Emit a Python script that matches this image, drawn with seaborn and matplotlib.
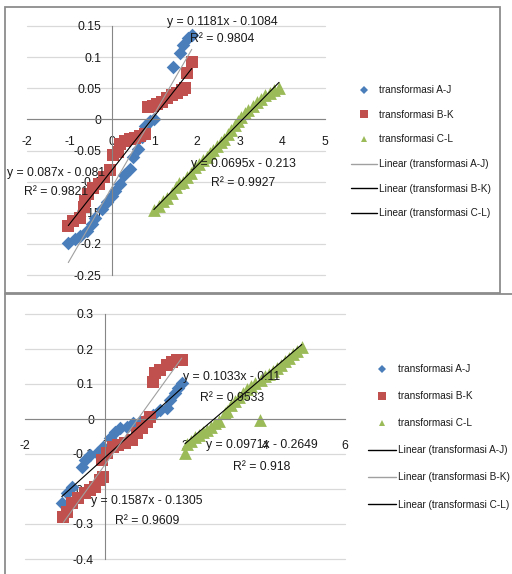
import matplotlib
matplotlib.use("Agg")
import matplotlib.pyplot as plt
from matplotlib.lines import Line2D
from matplotlib.patches import Rectangle
import numpy as np
import pandas as pd
import seaborn as sns

sns.set_style("white")
plt.rcParams["font.family"] = ["Liberation Sans", "DejaVu Sans"]

SERIES = ["transformasi A-J", "transformasi B-K", "transformasi C-L"]
COLORS = ["#4a7ebb", "#c0504d", "#9bbb59"]
MARKERS = ["D", "s", "^"]
MSIZE = [48, 78, 85]

# ---- upper chart data ----
aj_top_x = [-1.03, -0.87, -0.75, -0.60, -0.48, -0.40, -0.24, -0.12, 0.00, 0.07, 0.19, 0.27,
            0.42, 0.50, 0.61, 0.70, 0.78, 0.89, 0.99, 1.44, 1.60, 1.67, 1.79, 1.87]
aj_top_y = [-0.198, -0.192, -0.187, -0.179, -0.168, -0.158, -0.144, -0.133, -0.123, -0.115,
            -0.104, -0.090, -0.079, -0.061, -0.047, -0.029, -0.010, -0.002, 0.000, 0.084,
            0.106, 0.119, 0.130, 0.135]
bk_top_x = [-1.03, -0.91, -0.75, -0.67, -0.63, -0.56, -0.44, -0.32, -0.20, -0.05, 0.03, 0.14,
            0.19, 0.30, 0.42, 0.54, 0.66, 0.78, 0.85, 0.96, 1.05, 1.17, 1.30, 1.41, 1.53,
            1.64, 1.71, 1.76, 1.87]
bk_top_y = [-0.171, -0.163, -0.158, -0.141, -0.131, -0.120, -0.111, -0.104, -0.093, -0.082,
            -0.058, -0.053, -0.039, -0.034, -0.032, -0.030, -0.026, -0.023, 0.020, 0.022,
            0.025, 0.028, 0.034, 0.039, 0.042, 0.047, 0.050, 0.074, 0.092]
cl_top_x = [0.98, 1.10, 1.20, 1.30, 1.40, 1.50, 1.58, 1.66, 1.75, 1.85, 1.95, 2.05, 2.13, 2.22,
            2.30, 2.38, 2.47, 2.55, 2.63, 2.72, 2.80, 2.88, 2.95, 3.03, 3.12, 3.20, 3.30,
            3.40, 3.50, 3.60, 3.70, 3.80, 3.92]
cl_top_y = [-0.145, -0.139, -0.131, -0.126, -0.118, -0.108, -0.103, -0.100, -0.093, -0.086,
            -0.077, -0.072, -0.066, -0.061, -0.054, -0.049, -0.043, -0.037, -0.031, -0.024,
            -0.017, -0.009, -0.002, 0.004, 0.010, 0.015, 0.022, 0.028, 0.033, 0.039, 0.043,
            0.047, 0.050]
slope_top = [0.1181, 0.087, 0.0695]
icept_top = [-0.1084, -0.081, -0.213]
r2_top = [0.9804, 0.9821, 0.9927]

# ---- lower chart data ----
aj_bot_x = [-1.08, -0.96, -0.83, -0.58, -0.50, -0.38, -0.21, -0.04, 0.13, 0.25, 0.38, 0.54,
            0.71, 0.88, 1.04, 1.21, 1.38, 1.54, 1.63, 1.75, 1.83, 1.92]
aj_bot_y = [-0.241, -0.212, -0.193, -0.136, -0.117, -0.103, -0.098, -0.079, -0.055, -0.036,
            -0.026, -0.022, -0.012, -0.008, 0.003, 0.011, 0.026, 0.031, 0.054, 0.074,
            0.088, 0.102]
bk_bot_x = [-1.04, -0.96, -0.83, -0.67, -0.50, -0.38, -0.25, -0.13, -0.04, -0.08, 0.04, 0.21,
            0.33, 0.50, 0.67, 0.79, 0.92, 1.04, 1.13, 1.21, 1.25, 1.38, 1.54, 1.67, 1.79, 1.92]
bk_bot_y = [-0.279, -0.265, -0.240, -0.227, -0.212, -0.203, -0.193, -0.174, -0.165, -0.117,
            -0.098, -0.079, -0.074, -0.069, -0.060, -0.041, -0.027, -0.008, 0.007, 0.107,
            0.131, 0.140, 0.154, 0.164, 0.169, 0.169]
cl_bot_x = [2.00, 2.05, 2.15, 2.25, 2.35, 2.45, 2.55, 2.65, 2.75, 2.85, 3.00, 3.05, 3.15, 3.25,
            3.35, 3.45, 3.55, 3.65, 3.75, 3.87, 3.90, 4.00, 4.10, 4.20, 4.30, 4.40, 4.50,
            4.60, 4.70, 4.80, 4.92]
cl_bot_y = [-0.098, -0.072, -0.062, -0.052, -0.045, -0.036, -0.030, -0.022, -0.012, -0.006,
            0.017, 0.022, 0.040, 0.052, 0.063, 0.075, 0.085, 0.094, 0.103, -0.003, 0.112,
            0.122, 0.130, 0.138, 0.146, 0.155, 0.165, 0.175, 0.185, 0.195, 0.205]
slope_bot = [0.1033, 0.1587, 0.0971]
icept_bot = [-0.11, -0.1305, -0.2649]
r2_bot = [0.9533, 0.9609, 0.918]

# tick positions / labels
xt_top = [-2, -1, 0, 1, 2, 3, 4, 5]
xl_top = ["-2", "-1", "0", "1", "2", "3", "4", "5"]
yt_top = [0.15, 0.1, 0.05, 0, -0.05, -0.1, -0.15, -0.2, -0.25]
yl_top = ["0.15", "0.1", "0.05", "0", "-0.05", "-0.1", "-0.15", "-0.2", "-0.25"]
xt_bot = [-2, 0, 2, 4, 6]
xl_bot = ["-2", "0", "2", "4", "6"]
yt_bot = [0.3, 0.2, 0.1, 0, -0.1, -0.2, -0.3, -0.4]
yl_bot = ["0.3", "0.2", "0.1", "0", "-0.1", "-0.2", "-0.3", "-0.4"]

W, H = 512, 574
fig = plt.figure(figsize=(W / 100, H / 100), dpi=100)
fig.patch.set_facecolor("white")


def fx(px):
    return px / W


def fy(py):
    return 1 - py / H


def panel(rect, xs, ys, slopes, icepts, xlim, ylim, xt, xl, yt, yl, fit_colors, xpad):
    ax = fig.add_axes(rect)
    ax.set_facecolor("none")
    frames = []
    for name, x, y in zip(SERIES, xs, ys):
        frames.append(pd.DataFrame({"x": x, "y": y, "series": name}))
    df = pd.concat(frames, ignore_index=True)
    for i, name in enumerate(SERIES):
        sub = df[df["series"] == name]
        sns.scatterplot(data=sub, x="x", y="y", color=COLORS[i], marker=MARKERS[i],
                        s=MSIZE[i], linewidth=0, ax=ax, legend=False, zorder=2)
    for i, name in enumerate(SERIES):
        sub = df[df["series"] == name]
        lo, hi = sub["x"].min(), sub["x"].max()
        fit = pd.DataFrame({"x": [lo, hi],
                            "y": [slopes[i] * lo + icepts[i], slopes[i] * hi + icepts[i]]})
        sns.lineplot(data=fit, x="x", y="y", color=fit_colors[i], lw=0.8, ax=ax, zorder=3)
    ax.set_xlim(*xlim)
    ax.set_ylim(*ylim)
    ax.set_xticks(xt)
    ax.set_xticklabels(xl)
    ax.set_yticks(yt)
    ax.set_yticklabels(yl)
    ax.set_xlabel("")
    ax.set_ylabel("")
    for s in ["top", "right"]:
        ax.spines[s].set_visible(False)
    ax.spines["left"].set_position(("data", 0))
    ax.spines["bottom"].set_position(("data", 0))
    for s in ["left", "bottom"]:
        ax.spines[s].set_color("#868686")
        ax.spines[s].set_linewidth(0.8)
    ax.yaxis.grid(True, color="#d9d9d9", lw=0.9)
    ax.xaxis.grid(False)
    ax.set_axisbelow(True)
    for gl in ax.yaxis.get_gridlines():
        gl.set_clip_on(False)
    ax.tick_params(axis="x", direction="out", length=3, width=0.8, color="#868686",
                   pad=xpad, labelsize=8.8, labelcolor="#1a1a1a")
    ax.tick_params(axis="y", direction="out", length=3, width=0.8, color="#868686",
                   pad=5, labelsize=8.8, labelcolor="#1a1a1a")
    return ax


GRAY_FIT = "#a0a0a0"
ax1 = panel([fx(27), fy(275), (325 - 27) / W, (275 - 26) / H],
            [aj_top_x, bk_top_x, cl_top_x], [aj_top_y, bk_top_y, cl_top_y],
            slope_top, icept_top, (-2, 5), (-0.25, 0.15), xt_top, xl_top, yt_top, yl_top,
            [GRAY_FIT, "black", "black"], 9)
ax2 = panel([fx(25), fy(559), (345 - 25) / W, (559 - 314) / H],
            [aj_bot_x, bk_bot_x, cl_bot_x], [aj_bot_y, bk_bot_y, cl_bot_y],
            slope_bot, icept_bot, (-2, 6), (-0.4, 0.3), xt_bot, xl_bot, yt_bot, yl_bot,
            ["black", GRAY_FIT, "black"], 12)


def eq_text(m, b):
    sign = "-" if b < 0 else "+"
    return f"y = {m:g}x {sign} {abs(b):g}"


# trendline equations (pixel anchors of each label pair)
top_pos = [(222, 22, 39), (56, 173, 192), (243, 164, 183)]
bot_pos = [(232, 377, 398), (147, 501, 521), (262, 445, 467)]
for pos, slopes, icepts, r2s in [(top_pos, slope_top, icept_top, r2_top),
                                 (bot_pos, slope_bot, icept_bot, r2_bot)]:
    for (cx, y1, y2), m, b, r in zip(pos, slopes, icepts, r2s):
        fig.text(fx(cx), fy(y1), eq_text(m, b), ha="center", va="center",
                 fontsize=8.8, color="#1a1a1a")
        fig.text(fx(cx), fy(y2), f"R² = {r:g}", ha="center", va="center",
                 fontsize=8.8, color="#1a1a1a")


def legend_handles(fit_colors):
    hs = [Line2D([], [], ls="none", marker=MARKERS[i], color=COLORS[i],
                 markersize=[4, 5.5, 5][i], markeredgewidth=0) for i in range(3)]
    hs += [Line2D([], [], color=fit_colors[i], lw=1.0) for i in range(3)]
    labels = SERIES + [f"Linear ({n})" for n in SERIES]
    return hs, labels


for ax, cols, (lx, ly), spacing, hlen in [
        (ax1, [GRAY_FIT, "black", "black"], (346, 80), 1.47, 2.6),
        (ax2, ["black", GRAY_FIT, "black"], (363, 359), 1.71, 2.8)]:
    hs, labels = legend_handles(cols)
    leg = ax.legend(hs, labels, loc="upper left", bbox_to_anchor=(fx(lx), fy(ly)),
                    bbox_transform=fig.transFigure, frameon=False, borderpad=0,
                    handlelength=hlen, handletextpad=0.2, labelspacing=spacing,
                    prop={"size": 7.2})
    for t in leg.get_texts():
        t.set_color("#1a1a1a")

# chart frames
fig.add_artist(Rectangle((fx(5), fy(293)), (500 - 5) / W, (293 - 7) / H, fill=False,
                         ec="#8c8c8c", lw=1.3, transform=fig.transFigure))
fig.add_artist(Line2D([fx(5), fx(512)], [fy(294.5), fy(294.5)], color="#8c8c8c", lw=1.3,
                      transform=fig.transFigure))
fig.add_artist(Line2D([fx(5), fx(5)], [fy(294.5), fy(574)], color="#8c8c8c", lw=1.3,
                      transform=fig.transFigure))

fig.savefig("out.png", dpi=100)
